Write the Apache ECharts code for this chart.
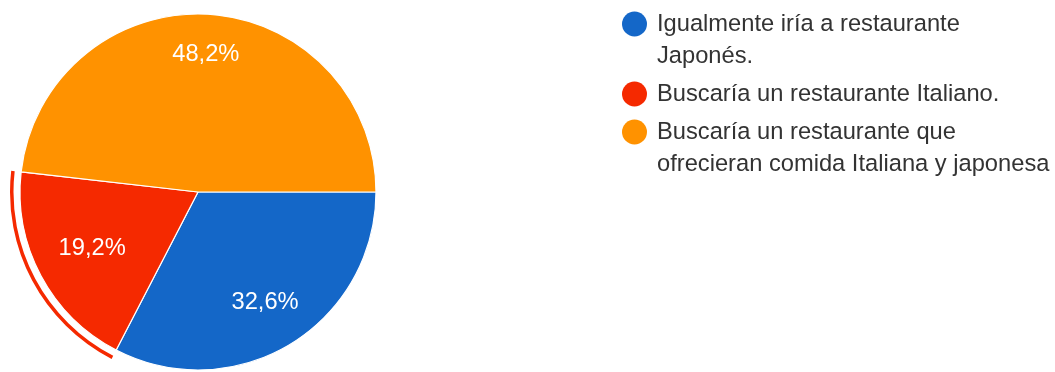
<!DOCTYPE html>
<html>
<head>
<meta charset="utf-8">
<script src="https://cdn.jsdelivr.net/npm/echarts@6/dist/echarts.min.js"></script>
<style>
  html, body { margin: 0; padding: 0; background: #fff; }
  #chart { width: 1055px; height: 372px; }
</style>
</head>
<body>
<div id="chart"></div>
<script>
// Survey answers and their share of responses (%)
const categories = [
  'Igualmente iría a restaurante Japonés.',
  'Buscaría un restaurante Italiano.',
  'Buscaría un restaurante que ofrecieran comida Italiana y japonesa'
];
const shares = [32.6, 19.2, 48.2];
const colors = ['#1467c8', '#f52900', '#ff9200'];
// Slice currently pointed at (drawn with an outer ring)
const selectedIndex = 1;

const FONT = 'Arial, "Liberation Sans", sans-serif';
const FONT_SIZE = 23.7;
const CENTER = [198, 192];
const RADIUS = 178;
// Distance of each percentage label from the pie centre
const labelRadius = [129, 120, 138];

const fmt = v => v.toFixed(1).replace('.', ',') + '%';

const pieData = categories.map((name, i) => ({
  name, value: shares[i], itemStyle: { color: colors[i] }
}));

const ringData = categories.map((name, i) => ({
  name, value: shares[i],
  itemStyle: { color: i === selectedIndex ? colors[i] : 'rgba(0,0,0,0)' }
}));

// Legend: colored dots with wrapped answer text
const legendX = 622, legendTextX = 657, firstY = 24, lineH = 32, itemGap = 6;
const legendWidth = 1055 - legendTextX;
const graphics = [];
(function buildLegend() {
  let y = firstY;
  categories.forEach((name, i) => {
    graphics.push({
      type: 'circle',
      shape: { cx: legendX + 12.5, cy: y, r: 12.5 },
      style: { fill: colors[i] },
      silent: true
    });
    const textStyle = {
      text: name,
      fontSize: FONT_SIZE,
      fontFamily: FONT,
      fill: '#333',
      lineHeight: lineH,
      width: legendWidth,
      overflow: 'break',
      verticalAlign: 'top'
    };
    const probe = new echarts.graphic.Text({ style: Object.assign({}, textStyle) });
    const lines = Math.round(probe.getBoundingRect().height / lineH);
    graphics.push({
      type: 'text',
      x: legendTextX,
      y: y - lineH / 2,
      silent: true,
      style: textStyle
    });
    y += lines * lineH + itemGap;
  });
})();

const chart = echarts.init(document.getElementById('chart'), null, { renderer: 'canvas' });
chart.setOption({
  animation: false,
  backgroundColor: '#fff',
  graphic: graphics,
  series: [
    {
      type: 'pie',
      silent: true,
      center: CENTER,
      radius: [0, RADIUS],
      startAngle: 0,
      clockwise: true,
      avoidLabelOverlap: false,
      labelLine: { show: false },
      label: {
        show: true,
        position: 'inside',
        color: '#fff',
        fontSize: FONT_SIZE,
        fontFamily: FONT,
        formatter: p => fmt(p.value)
      },
      // push each inside label outward along its slice's bisector
      labelLayout: p => {
        const r = p.labelRect;
        const dx = r.x + r.width / 2 - CENTER[0];
        const dy = r.y + r.height / 2 - CENTER[1];
        const len = Math.sqrt(dx * dx + dy * dy) || 1;
        const k = labelRadius[p.dataIndex] / len;
        return { x: CENTER[0] + dx * k, y: CENTER[1] + dy * k };
      },
      itemStyle: { borderColor: '#fff', borderWidth: 1.2 },
      data: pieData
    },
    {
      type: 'pie',
      silent: true,
      center: CENTER,
      radius: [RADIUS + 6.5, RADIUS + 10],
      startAngle: 0,
      clockwise: true,
      label: { show: false },
      labelLine: { show: false },
      data: ringData
    }
  ]
});
</script>
</body>
</html>
